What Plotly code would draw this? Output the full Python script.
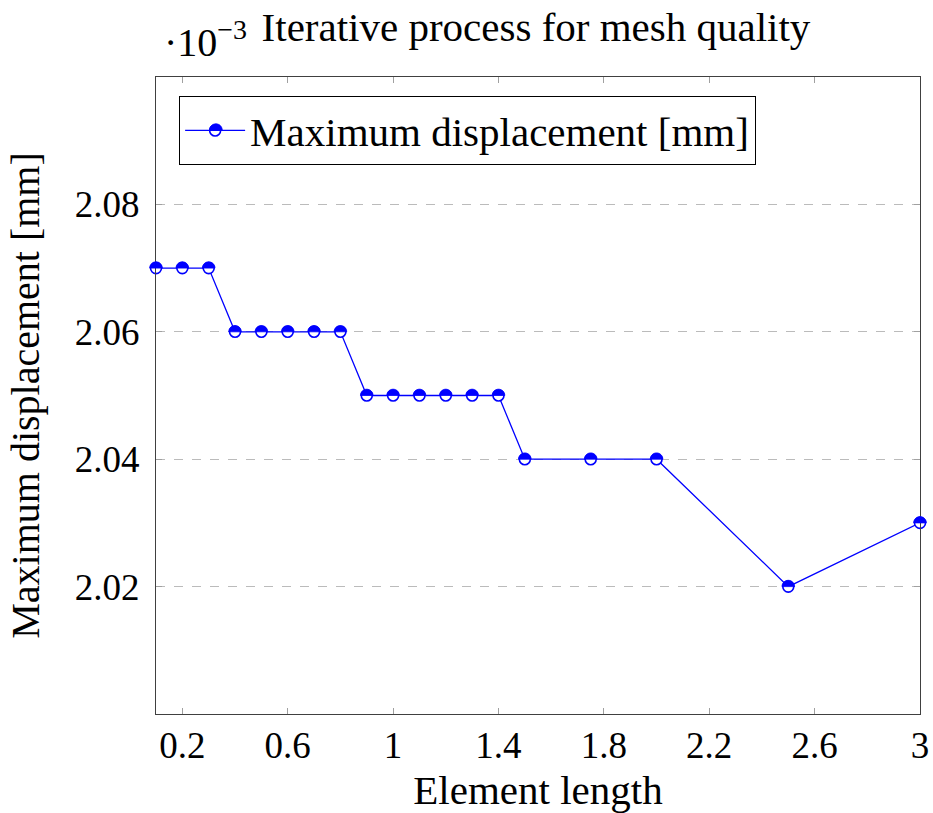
import plotly.graph_objects as go

# Data (displacement values shown in units of 1e-3 mm)
element_length = [0.1, 0.2, 0.3, 0.4, 0.5, 0.6, 0.7, 0.8, 0.9, 1.0, 1.1, 1.2, 1.3, 1.4, 1.5, 1.75, 2.0, 2.5, 3.0]
max_displacement = [2.07, 2.07, 2.07, 2.06, 2.06, 2.06, 2.06, 2.06, 2.05, 2.05, 2.05, 2.05, 2.05, 2.05, 2.04, 2.04, 2.04, 2.02, 2.03]
x_tickvals = [0.2, 0.6, 1.0, 1.4, 1.8, 2.2, 2.6, 3.0]
x_ticktext = ["0.2", "0.6", "1", "1.4", "1.8", "2.2", "2.6", "3"]
y_tickvals = [2.02, 2.04, 2.06, 2.08]
y_ticktext = ["2.02", "2.04", "2.06", "2.08"]
x_range = [0.1, 3.0]
y_range = [2.0, 2.1]
series_name = "Maximum displacement [mm]"

FONT = "Liberation Serif"
BLUE = "#0000ff"
R = 6.3
K = 0.5523 * R

# plot area in pixels (from margins)
ML, MR, MT, MB = 156, 13, 77, 99
W, H = 933, 813
PW, PH = W - ML - MR, H - MT - MB

fig = go.Figure()
fig.add_trace(go.Scatter(
    x=element_length, y=max_displacement, mode="lines+markers",
    name=series_name, showlegend=False, legendgroup="s",
    line=dict(color=BLUE, width=1.3),
    marker=dict(symbol="circle", size=11, color="white", line=dict(color=BLUE, width=1.6)),
    cliponaxis=False,
))
# legend entry (open marker so the filled half drawn below shows through)
fig.add_trace(go.Scatter(
    x=[None], y=[None], mode="lines+markers", name=series_name, legendgroup="s",
    line=dict(color=BLUE, width=1.3),
    marker=dict(symbol="circle", size=11, color="rgba(0,0,0,0)", line=dict(color=BLUE, width=1.6)),
))

half = (f"M {-R},0 C {-R},{K} {-K},{R} 0,{R} C {K},{R} {R},{K} {R},0 Z")
shapes = []
for xv, yv in zip(element_length, max_displacement):
    px = (xv - x_range[0]) / (x_range[1] - x_range[0])
    py = (yv - y_range[0]) / (y_range[1] - y_range[0])
    shapes.append(dict(type="path", xref="paper", yref="paper", xsizemode="pixel", ysizemode="pixel",
                       xanchor=px, yanchor=py, path=half, fillcolor=BLUE, line=dict(color=BLUE, width=0.8)))

# legend marker's filled half
leg_x, leg_y = 0.03, 0.97
shapes.append(dict(type="path", xref="paper", yref="paper", xsizemode="pixel", ysizemode="pixel",
                   xanchor=leg_x + 37 / PW, yanchor=leg_y - 34 / PH, path=half,
                   fillcolor=BLUE, line=dict(color=BLUE, width=0.8)))

axis_common = dict(
    showline=True, linecolor="#404040", linewidth=1.4, mirror="ticks",
    ticks="inside", ticklen=6, tickwidth=1, tickcolor="#a0a0a0",
    tickfont=dict(family=FONT, size=37, color="black"),
    zeroline=False, automargin=False,
)

TXT = 41
fig.update_layout(
    width=W, height=H,
    margin=dict(l=ML, r=MR, t=MT, b=MB),
    paper_bgcolor="white", plot_bgcolor="white",
    font=dict(family=FONT, color="black"),
    title=dict(text="Iterative process for mesh quality", font=dict(family=FONT, size=TXT),
               x=536 / W, xanchor="center", y=1 - 27 / H, yanchor="middle", xref="container", yref="container"),
    xaxis=dict(range=x_range, tickvals=x_tickvals, ticktext=x_ticktext, showgrid=False,
               ticklabelstandoff=-2,
               title=dict(text="Element length", font=dict(family=FONT, size=TXT), standoff=10),
               **axis_common),
    yaxis=dict(range=y_range, tickvals=y_tickvals, ticktext=y_ticktext, showgrid=True,
               gridcolor="#bbbbbb", griddash="dash", gridwidth=1,
               ticklabelstandoff=8,
               title=dict(text="Maximum displacement [mm]", font=dict(family=FONT, size=40), standoff=22),
               **axis_common),
    showlegend=True,
    legend=dict(x=leg_x, y=leg_y, xanchor="left", yanchor="top", bgcolor="rgba(0,0,0,0)",
                bordercolor="black", borderwidth=1.2, font=dict(family=FONT, size=TXT),
                itemwidth=60),
    shapes=shapes,
    annotations=[dict(text="·10<sup>−3</sup>", xref="paper", yref="paper", x=0.008, y=1.015,
                      xanchor="left", yanchor="bottom", showarrow=False,
                      font=dict(family=FONT, size=40))],
)

fig.write_html("out.html")
